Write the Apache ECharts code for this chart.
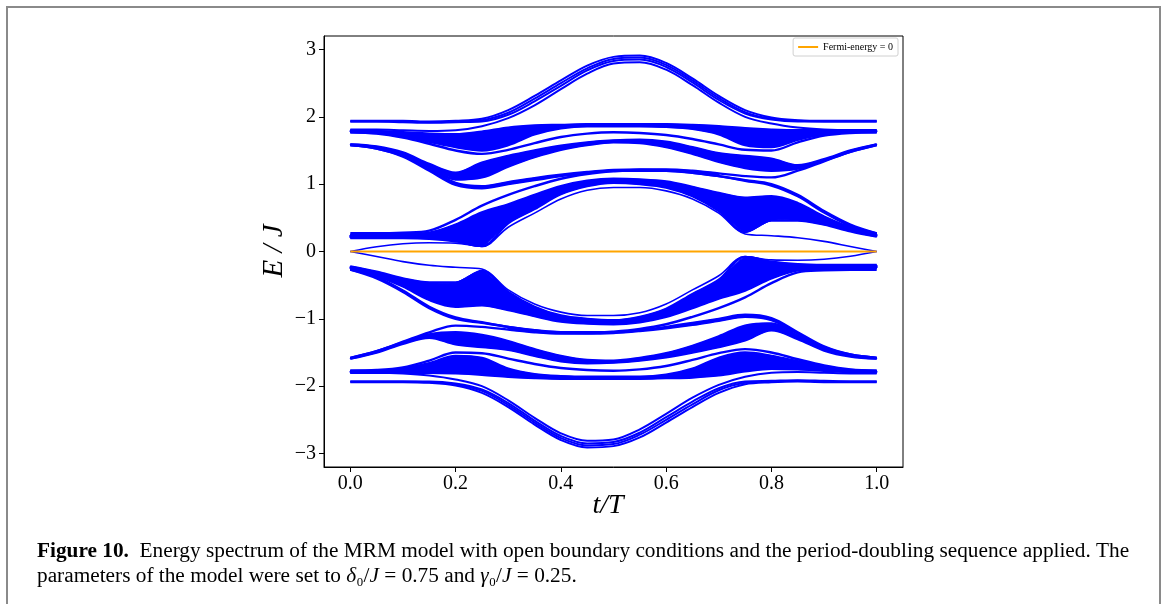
<!DOCTYPE html>
<html><head><meta charset="utf-8">
<script src="https://cdn.jsdelivr.net/npm/echarts@6/dist/echarts.min.js"></script>
<style>html,body{margin:0;padding:0;background:#fff}#c{width:1165px;height:604px}</style>
</head><body><div id="c"></div>
<script>
// t/T sample points
const T = [0,0.05,0.1,0.15,0.2,0.25,0.3,0.35,0.4,0.45,0.5,0.55,0.6,0.65,0.7,0.75,0.8,0.85,0.9,0.95,1];
const xTicks = [0,0.2,0.4,0.6,0.8,1.0];
const yTicks = [-3,-2,-1,0,1,2,3];
const fermiT = [0,1];
const fermiE = [0,0];
const fermiName = 'Fermi-energy = 0';

// upper half levels E/J
const A1 = [1.94,1.94,1.94,1.93,1.94,1.97,2.10,2.31,2.54,2.76,2.89,2.91,2.80,2.57,2.31,2.10,1.99,1.95,1.94,1.94,1.94];
const A2 = [1.93,1.93,1.93,1.92,1.93,1.95,2.06,2.27,2.50,2.72,2.86,2.88,2.77,2.54,2.28,2.07,1.97,1.94,1.93,1.93,1.93];
const A3 = [1.93,1.93,1.92,1.91,1.92,1.93,2.03,2.23,2.46,2.69,2.83,2.85,2.74,2.51,2.25,2.05,1.96,1.93,1.93,1.93,1.93];
const A4 = [1.81,1.81,1.80,1.79,1.80,1.86,1.98,2.17,2.41,2.64,2.79,2.81,2.70,2.47,2.21,2.00,1.90,1.84,1.81,1.80,1.80];
const B1 = [1.80,1.79,1.77,1.75,1.74,1.78,1.84,1.87,1.88,1.89,1.89,1.89,1.89,1.88,1.86,1.83,1.81,1.80,1.80,1.80,1.80];
const B2 = [1.79,1.78,1.75,1.71,1.67,1.70,1.80,1.86,1.87,1.88,1.88,1.88,1.88,1.86,1.83,1.76,1.72,1.75,1.78,1.79,1.79];
const B3 = [1.78,1.77,1.73,1.67,1.61,1.61,1.72,1.83,1.86,1.87,1.87,1.87,1.86,1.85,1.80,1.67,1.62,1.70,1.76,1.78,1.78];
const B4 = [1.77,1.76,1.71,1.63,1.55,1.50,1.58,1.74,1.83,1.86,1.86,1.86,1.85,1.82,1.74,1.58,1.55,1.66,1.74,1.77,1.77];
const B5 = [1.77,1.75,1.69,1.60,1.50,1.45,1.51,1.61,1.70,1.75,1.77,1.76,1.73,1.67,1.59,1.51,1.50,1.62,1.72,1.76,1.77];
const C1 = [1.59,1.56,1.47,1.30,1.17,1.32,1.42,1.50,1.57,1.62,1.65,1.66,1.63,1.55,1.46,1.42,1.38,1.28,1.37,1.50,1.59];
const C2 = [1.59,1.55,1.45,1.27,1.12,1.22,1.35,1.46,1.55,1.61,1.64,1.63,1.59,1.50,1.40,1.34,1.30,1.26,1.36,1.49,1.59];
const C3 = [1.58,1.54,1.44,1.25,1.07,1.10,1.26,1.40,1.51,1.58,1.62,1.61,1.55,1.45,1.33,1.24,1.20,1.23,1.35,1.48,1.58];
const C4 = [1.58,1.53,1.42,1.22,1.02,0.97,1.03,1.09,1.14,1.18,1.21,1.22,1.22,1.20,1.16,1.12,1.10,1.20,1.34,1.48,1.58];
const C5 = [1.58,1.53,1.41,1.20,0.99,0.94,1.00,1.06,1.12,1.17,1.20,1.20,1.20,1.17,1.12,1.05,0.98,0.82,0.58,0.38,0.27];
const D1 = [0.20,0.20,0.20,0.19,0.15,0.08,0.42,0.63,0.85,0.97,1.02,1.00,0.95,0.82,0.60,0.29,0.46,0.46,0.40,0.30,0.22];
const D2 = [0.21,0.21,0.21,0.20,0.19,0.18,0.45,0.66,0.87,0.99,1.03,1.02,0.97,0.86,0.66,0.40,0.52,0.50,0.42,0.32,0.23];
const D3 = [0.22,0.22,0.22,0.22,0.25,0.32,0.50,0.69,0.89,1.01,1.05,1.04,0.99,0.89,0.74,0.52,0.62,0.58,0.46,0.33,0.24];
const D4 = [0.24,0.24,0.24,0.25,0.32,0.46,0.58,0.74,0.91,1.03,1.07,1.05,1.01,0.92,0.80,0.66,0.72,0.65,0.49,0.35,0.25];
const D5 = [0.25,0.25,0.26,0.28,0.40,0.58,0.70,0.84,0.97,1.05,1.08,1.07,1.04,0.96,0.87,0.80,0.82,0.72,0.52,0.36,0.26];
const D6 = [0.27,0.27,0.28,0.31,0.47,0.68,0.84,0.97,1.08,1.15,1.19,1.21,1.20,1.17,1.12,1.06,1.00,0.84,0.60,0.40,0.27];
const EU = [0,0.07,0.115,0.13,0.125,0.075,0.36,0.57,0.78,0.91,0.95,0.95,0.90,0.78,0.57,0.26,0.235,0.205,0.15,0.075,0];

// lower half levels E/J
const A1n = [-1.94,-1.94,-1.94,-1.95,-1.99,-2.10,-2.31,-2.57,-2.80,-2.91,-2.89,-2.76,-2.54,-2.31,-2.10,-1.97,-1.94,-1.93,-1.94,-1.94,-1.94];
const A2n = [-1.93,-1.93,-1.93,-1.94,-1.97,-2.07,-2.28,-2.54,-2.77,-2.88,-2.86,-2.72,-2.50,-2.27,-2.06,-1.95,-1.93,-1.92,-1.93,-1.93,-1.93];
const A3n = [-1.93,-1.93,-1.93,-1.93,-1.96,-2.05,-2.25,-2.51,-2.74,-2.85,-2.83,-2.69,-2.46,-2.23,-2.03,-1.93,-1.92,-1.91,-1.92,-1.93,-1.93];
const A4n = [-1.80,-1.80,-1.81,-1.84,-1.90,-2.00,-2.21,-2.47,-2.70,-2.81,-2.79,-2.64,-2.41,-2.17,-1.98,-1.86,-1.80,-1.79,-1.80,-1.81,-1.81];
const B1n = [-1.80,-1.80,-1.80,-1.80,-1.81,-1.83,-1.86,-1.88,-1.89,-1.89,-1.89,-1.89,-1.88,-1.87,-1.84,-1.78,-1.74,-1.75,-1.77,-1.79,-1.80];
const B2n = [-1.79,-1.79,-1.78,-1.75,-1.72,-1.76,-1.83,-1.86,-1.88,-1.88,-1.88,-1.88,-1.87,-1.86,-1.80,-1.70,-1.67,-1.71,-1.75,-1.78,-1.79];
const B3n = [-1.78,-1.78,-1.76,-1.70,-1.62,-1.67,-1.80,-1.85,-1.86,-1.87,-1.87,-1.87,-1.86,-1.83,-1.72,-1.61,-1.61,-1.67,-1.73,-1.77,-1.78];
const B4n = [-1.77,-1.77,-1.74,-1.66,-1.55,-1.58,-1.74,-1.82,-1.85,-1.86,-1.86,-1.86,-1.83,-1.74,-1.58,-1.50,-1.55,-1.63,-1.71,-1.76,-1.77];
const B5n = [-1.77,-1.76,-1.72,-1.62,-1.50,-1.51,-1.59,-1.67,-1.73,-1.76,-1.77,-1.75,-1.70,-1.61,-1.51,-1.45,-1.50,-1.60,-1.69,-1.75,-1.77];
const C1n = [-1.59,-1.50,-1.37,-1.28,-1.38,-1.42,-1.46,-1.55,-1.63,-1.66,-1.65,-1.62,-1.57,-1.50,-1.42,-1.32,-1.17,-1.30,-1.47,-1.56,-1.59];
const C2n = [-1.59,-1.49,-1.36,-1.26,-1.30,-1.34,-1.40,-1.50,-1.59,-1.63,-1.64,-1.61,-1.55,-1.46,-1.35,-1.22,-1.12,-1.27,-1.45,-1.55,-1.59];
const C3n = [-1.58,-1.48,-1.35,-1.23,-1.20,-1.24,-1.33,-1.45,-1.55,-1.61,-1.62,-1.58,-1.51,-1.40,-1.26,-1.10,-1.07,-1.25,-1.44,-1.54,-1.58];
const C4n = [-1.58,-1.48,-1.34,-1.20,-1.10,-1.12,-1.16,-1.20,-1.22,-1.22,-1.21,-1.18,-1.14,-1.09,-1.03,-0.97,-1.02,-1.22,-1.42,-1.53,-1.58];
const C5n = [-0.27,-0.38,-0.58,-0.82,-0.98,-1.05,-1.12,-1.17,-1.20,-1.20,-1.20,-1.17,-1.12,-1.06,-1.00,-0.94,-0.99,-1.20,-1.41,-1.53,-1.58];
const D1n = [-0.22,-0.30,-0.40,-0.46,-0.46,-0.29,-0.60,-0.82,-0.95,-1.00,-1.02,-0.97,-0.85,-0.63,-0.42,-0.08,-0.15,-0.19,-0.20,-0.20,-0.20];
const D2n = [-0.23,-0.32,-0.42,-0.50,-0.52,-0.40,-0.66,-0.86,-0.97,-1.02,-1.03,-0.99,-0.87,-0.66,-0.45,-0.18,-0.19,-0.20,-0.21,-0.21,-0.21];
const D3n = [-0.24,-0.33,-0.46,-0.58,-0.62,-0.52,-0.74,-0.89,-0.99,-1.04,-1.05,-1.01,-0.89,-0.69,-0.50,-0.32,-0.25,-0.22,-0.22,-0.22,-0.22];
const D4n = [-0.25,-0.35,-0.49,-0.65,-0.72,-0.66,-0.80,-0.92,-1.01,-1.05,-1.07,-1.03,-0.91,-0.74,-0.58,-0.46,-0.32,-0.25,-0.24,-0.24,-0.24];
const D5n = [-0.26,-0.36,-0.52,-0.72,-0.82,-0.80,-0.87,-0.96,-1.04,-1.07,-1.08,-1.05,-0.97,-0.84,-0.70,-0.58,-0.40,-0.28,-0.26,-0.25,-0.25];
const D6n = [-0.27,-0.40,-0.60,-0.84,-1.00,-1.06,-1.12,-1.17,-1.20,-1.21,-1.19,-1.15,-1.08,-0.97,-0.84,-0.68,-0.47,-0.31,-0.28,-0.27,-0.27];
const EUn = [0,-0.075,-0.15,-0.205,-0.235,-0.26,-0.57,-0.78,-0.90,-0.95,-0.95,-0.91,-0.78,-0.57,-0.36,-0.075,-0.125,-0.13,-0.115,-0.07,0];

const topLevels = [A1,A2,A3,A4,A1n,A2n,A3n,A4n];
const levels = [B1,B2,B3,B4,B5,C1,C2,C3,C4,C5,D1,D2,D3,D4,D5,D6,
                B1n,B2n,B3n,B4n,B5n,C1n,C2n,C3n,C4n,C5n,D1n,D2n,D3n,D4n,D5n,D6n];
const edgeLevels = [EU, EUn];
// dense bundles: [upper level, lower level, first index, last index]
const bundles = [[B1,B4,0,20],[C1,C3,0,20],[C4,C5,3,14],[D1,D5,0,20],
                 [B1n,B4n,0,20],[C1n,C3n,0,20],[C4n,C5n,6,17],[D1n,D5n,0,20]];

const serif = '"Liberation Serif","DejaVu Serif",serif';
const BLUE = '#0000ff';
const series = [];
series.push({
  type: 'custom', silent: true, z: 1, clip: true,
  data: bundles.map((b, k) => [k]),
  renderItem: (params, api) => {
    const b = bundles[api.value(0)];
    const up = b[0], lo = b[1], pts = [];
    for (let i = b[2]; i <= b[3]; i++) pts.push(api.coord([T[i], up[i]]));
    for (let i = b[3]; i >= b[2]; i--) pts.push(api.coord([T[i], lo[i]]));
    return { type: 'polygon', shape: { points: pts, smooth: 0.25 }, style: { fill: BLUE, stroke: BLUE, lineWidth: 1 } };
  }
});
const addLines = (list, w) => list.forEach(arr => series.push({
  type: 'line', data: T.map((t, i) => [t, arr[i]]), smooth: 0.35, symbol: 'none',
  lineStyle: { color: BLUE, width: w }, silent: true, z: 2
}));
addLines(topLevels, 2.0);
addLines(levels, 2.4);
addLines(edgeLevels, 1.6);
series.push({
  name: fermiName, type: 'line', data: fermiT.map((t, i) => [t, fermiE[i]]), symbol: 'none',
  lineStyle: { color: '#ffa500', width: 1.8 }, itemStyle: { color: '#ffa500' }, z: 5, silent: true
});

const chart = echarts.init(document.getElementById('c'), null, { renderer: 'canvas' });
chart.setOption({
  animation: false,
  backgroundColor: '#ffffff',
  grid: { left: 324, right: 262, top: 36, bottom: 137, show: true, borderColor: '#000', borderWidth: 1, backgroundColor: 'transparent' },
  legend: {
    data: [fermiName], right: 267, top: 38, orient: 'horizontal',
    icon: 'rect', itemWidth: 20, itemHeight: 2, itemGap: 4,
    padding: [4, 5, 4, 5], borderColor: '#d0d0d0', borderWidth: 1, borderRadius: 2, backgroundColor: '#fff',
    textStyle: { fontFamily: serif, fontSize: 10, color: '#000' }
  },
  xAxis: {
    type: 'value', min: -0.05, max: 1.05,
    axisLine: { show: true, onZero: false, lineStyle: { color: '#000', width: 1 } },
    axisTick: { show: true, inside: false, length: 5, customValues: xTicks, lineStyle: { color: '#000' } },
    axisLabel: { customValues: xTicks, formatter: v => v.toFixed(1), fontFamily: serif, fontSize: 20, color: '#000', margin: 7 },
    splitLine: { show: false }
  },
  yAxis: {
    type: 'value', min: -3.2, max: 3.2,
    axisLine: { show: true, onZero: false, lineStyle: { color: '#000', width: 1 } },
    axisTick: { show: true, inside: false, length: 5, customValues: yTicks, lineStyle: { color: '#000' } },
    axisLabel: { customValues: yTicks, formatter: v => (v < 0 ? '\u2212' + Math.abs(v) : String(v)), fontFamily: serif, fontSize: 20, color: '#000', margin: 8 },
    splitLine: { show: false }
  },
  series: series,
  graphic: [
    { type: 'polyline', shape: { points: [[7, 604], [7, 7], [1160, 7], [1160, 604]] }, style: { stroke: '#8a8a8a', lineWidth: 2, fill: null }, silent: true },
    { type: 'text', x: 274, y: 251, rotation: Math.PI / 2, style: { text: 'E / J', fontFamily: serif, fontStyle: 'italic', fontSize: 29, fill: '#000', align: 'center', verticalAlign: 'middle' } },
    { type: 'text', x: 608, y: 506, style: { text: 't/T', fontFamily: serif, fontStyle: 'italic', fontSize: 28, fill: '#000', align: 'center', verticalAlign: 'middle' } },
    { type: 'text', x: 37, y: 551, style: {
        text: '{b|Figure 10.}  Energy spectrum of the MRM model with open boundary conditions and the period-doubling sequence applied. The',
        fontFamily: serif, fontSize: 21.3, fill: '#000', verticalAlign: 'middle',
        rich: { b: { fontFamily: serif, fontSize: 21.3, fontWeight: 'bold', fill: '#000' } } } },
    { type: 'text', x: 37, y: 576, style: {
        text: 'parameters of the model were set to {i|\u03b4}\u2080/{i|J} = 0.75 and {i|\u03b3}\u2080/{i|J} = 0.25.',
        fontFamily: serif, fontSize: 21.3, fill: '#000', verticalAlign: 'middle',
        rich: { i: { fontFamily: serif, fontSize: 21.3, fontStyle: 'italic', fill: '#000' } } } }
  ]
});
</script>
</body></html>
